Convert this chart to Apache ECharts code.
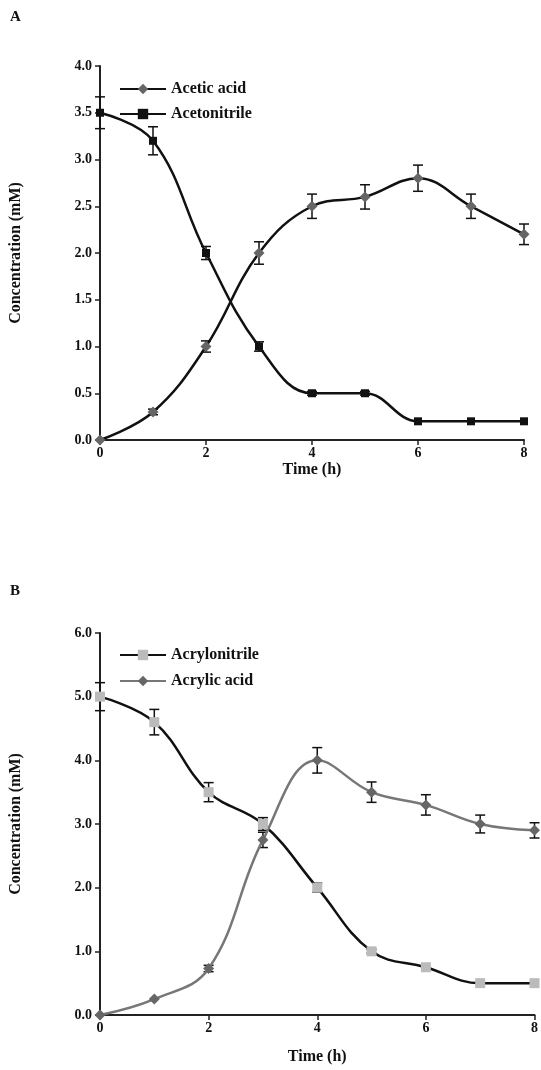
<!DOCTYPE html>
<html>
<head>
  <meta charset="UTF-8">
  <title>Concentration vs time</title>
  <script src="https://cdn.jsdelivr.net/npm/echarts@6/dist/echarts.min.js"></script>
  <style>
    html, body { margin: 0; padding: 0; background: #fff; }
    #main { width: 541px; height: 1070px; }
  </style>
</head>
<body>
<div id="main"></div>
<script>
  // time points (h)
  var hours = [0, 1, 2, 3, 4, 5, 6, 7, 8];

  // panel A
  var aceticAcid = [0, 0.3, 1.0, 2.0, 2.5, 2.6, 2.8, 2.5, 2.2];
  var aceticErr = [0, 0.03, 0.06, 0.12, 0.13, 0.13, 0.14, 0.13, 0.11];
  var acetonitrile = [3.5, 3.2, 2.0, 1.0, 0.5, 0.5, 0.2, 0.2, 0.2];
  var acetonitrileErr = [0.17, 0.15, 0.07, 0.05, 0.02, 0.02, 0.01, 0.01, 0.01];
  var yTicksA = ['0.0', '0.5', '1.0', '1.5', '2.0', '2.5', '3.0', '3.5', '4.0'];

  // panel B
  var acrylonitrile = [5.0, 4.6, 3.5, 3.0, 2.0, 1.0, 0.75, 0.5, 0.5];
  var acrylonitrileErr = [0.22, 0.2, 0.15, 0.1, 0.07, 0.03, 0.02, 0.02, 0.02];
  var acrylicAcid = [0, 0.25, 0.73, 2.75, 4.0, 3.5, 3.3, 3.0, 2.9];
  var acrylicErr = [0, 0.02, 0.05, 0.12, 0.2, 0.16, 0.16, 0.14, 0.12];
  var yTicksB = ['0.0', '1.0', '2.0', '3.0', '4.0', '5.0', '6.0'];

  var font = 'Liberation Serif';

  function pairs(ys) {
    return hours.map(function (h, i) { return [h, ys[i]]; });
  }
  function errData(ys, es) {
    return hours.map(function (h, i) { return [h, ys[i] - es[i], ys[i] + es[i]]; });
  }

  // I-beam error bars
  function errSeries(name, ys, es, idx, color) {
    return {
      type: 'custom',
      name: name + ' err',
      xAxisIndex: idx,
      yAxisIndex: idx,
      z: 1,
      data: errData(ys, es),
      renderItem: function (params, api) {
        var lo = api.coord([api.value(0), api.value(1)]);
        var hi = api.coord([api.value(0), api.value(2)]);
        if (Math.abs(hi[1] - lo[1]) < 3) return null;
        var w = 5;
        var st = { stroke: color, lineWidth: 1.5 };
        return {
          type: 'group',
          children: [
            { type: 'line', shape: { x1: lo[0], y1: lo[1], x2: hi[0], y2: hi[1] }, style: st },
            { type: 'line', shape: { x1: lo[0] - w, y1: lo[1], x2: lo[0] + w, y2: lo[1] }, style: st },
            { type: 'line', shape: { x1: hi[0] - w, y1: hi[1], x2: hi[0] + w, y2: hi[1] }, style: st }
          ]
        };
      }
    };
  }

  function xAxisCfg(idx, gap) {
    return {
      type: 'value', gridIndex: idx, min: 0, max: 8, interval: 2,
      name: 'Time (h)', nameLocation: 'middle', nameGap: gap,
      nameTextStyle: { fontFamily: font, fontWeight: 'bold', fontSize: 16, color: '#111' },
      axisLine: { lineStyle: { color: '#222', width: 2 } },
      axisTick: { show: true, length: 5, lineStyle: { color: '#222', width: 1.5 } },
      axisLabel: { fontFamily: font, fontWeight: 'bold', fontSize: 14, color: '#111', margin: 6 },
      splitLine: { show: false }
    };
  }
  function yAxisCfg(idx, max, interval, ticks) {
    return {
      type: 'value', gridIndex: idx, min: 0, max: max, interval: interval,
      name: 'Concentration (mM)', nameLocation: 'middle', nameGap: 76,
      nameTextStyle: { fontFamily: font, fontWeight: 'bold', fontSize: 16, color: '#111' },
      axisLine: { show: true, lineStyle: { color: '#222', width: 2 } },
      axisTick: { show: true, length: 5, lineStyle: { color: '#222', width: 1.5 } },
      axisLabel: {
        fontFamily: font, fontWeight: 'bold', fontSize: 14, color: '#111', margin: 8,
        formatter: function (v) { return ticks[Math.round(v / interval)]; }
      },
      splitLine: { show: false }
    };
  }

  var myChart = echarts.init(document.getElementById('main'));
  var option = {
    backgroundColor: '#fff',
    animation: false,
    graphic: [
      { type: 'text', left: 10, top: 10, style: { text: 'A', font: 'bold 15px "Liberation Serif"', fill: '#111' } },
      { type: 'text', left: 10, top: 584, style: { text: 'B', font: 'bold 15px "Liberation Serif"', fill: '#111' } }
    ],
    grid: [
      { left: 100, top: 66, width: 424, height: 374 },
      { left: 100, top: 633, width: 436, height: 382 }
    ],
    legend: [
      {
        data: ['Acetic acid', 'Acetonitrile'], orient: 'vertical', left: 114, top: 76,
        itemWidth: 46, itemHeight: 13, itemGap: 9,
        textStyle: { fontFamily: font, fontWeight: 'bold', fontSize: 16, color: '#111' }
      },
      {
        data: ['Acrylonitrile', 'Acrylic acid'], orient: 'vertical', left: 114, top: 642,
        itemWidth: 46, itemHeight: 13, itemGap: 10,
        textStyle: { fontFamily: font, fontWeight: 'bold', fontSize: 16, color: '#111' }
      }
    ],
    xAxis: [xAxisCfg(0, 22), xAxisCfg(1, 34)],
    yAxis: [yAxisCfg(0, 4, 0.5, yTicksA), yAxisCfg(1, 6, 1, yTicksB)],
    series: [
      errSeries('Acetic acid', aceticAcid, aceticErr, 0, '#111'),
      errSeries('Acetonitrile', acetonitrile, acetonitrileErr, 0, '#111'),
      {
        name: 'Acetic acid', type: 'line', xAxisIndex: 0, yAxisIndex: 0, smooth: 0.4,
        data: pairs(aceticAcid), symbol: 'diamond', symbolSize: 11, z: 3,
        lineStyle: { color: '#111', width: 2.5 },
        itemStyle: { color: '#666', borderWidth: 0 }
      },
      {
        name: 'Acetonitrile', type: 'line', xAxisIndex: 0, yAxisIndex: 0, smooth: 0.4,
        data: pairs(acetonitrile), symbol: 'rect', symbolSize: 8, z: 3,
        lineStyle: { color: '#111', width: 2.5 },
        itemStyle: { color: '#111', borderWidth: 0 }
      },
      errSeries('Acrylonitrile', acrylonitrile, acrylonitrileErr, 1, '#111'),
      errSeries('Acrylic acid', acrylicAcid, acrylicErr, 1, '#111'),
      {
        name: 'Acrylonitrile', type: 'line', xAxisIndex: 1, yAxisIndex: 1, smooth: 0.4,
        data: pairs(acrylonitrile), symbol: 'rect', symbolSize: 10, z: 3,
        lineStyle: { color: '#111', width: 2.5 },
        itemStyle: { color: '#bbb', borderWidth: 0 }
      },
      {
        name: 'Acrylic acid', type: 'line', xAxisIndex: 1, yAxisIndex: 1, smooth: 0.4,
        data: pairs(acrylicAcid), symbol: 'diamond', symbolSize: 11, z: 3,
        lineStyle: { color: '#777', width: 2.5 },
        itemStyle: { color: '#666', borderWidth: 0 }
      }
    ]
  };
  myChart.setOption(option);
</script>
</body>
</html>
